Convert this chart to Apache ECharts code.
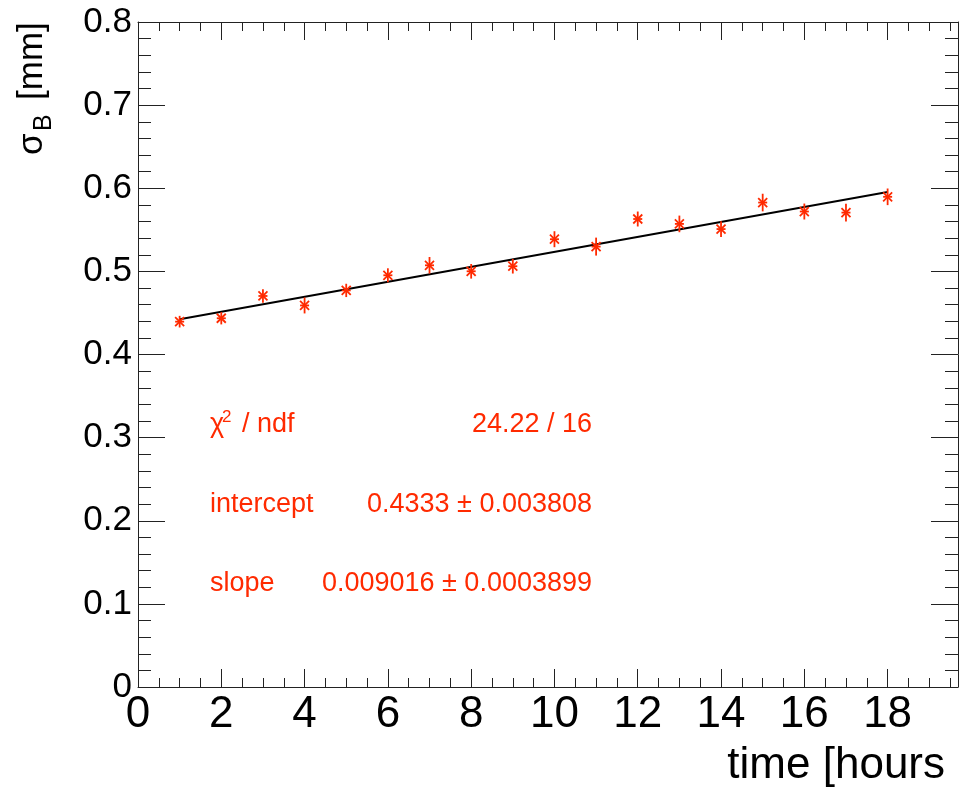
<!DOCTYPE html>
<html>
<head>
<meta charset="utf-8">
<script src="https://cdn.jsdelivr.net/npm/echarts@6/dist/echarts.min.js"></script>
<style>
  html, body { margin: 0; padding: 0; background: #fff; }
  #chart { width: 960px; height: 788px; }
</style>
</head>
<body>
<div id="chart"></div>
<script>
// Beam width measurements per hour, with uncertainties
const hours = [1, 2, 3, 4, 5, 6, 7, 8, 9, 10, 11, 12, 13, 14, 15, 16, 17, 18];
const sigmaB = [0.4395, 0.4436, 0.4704, 0.4590, 0.4771, 0.4953, 0.5073, 0.5001, 0.5062,
                0.5387, 0.5298, 0.5630, 0.5571, 0.5509, 0.5828, 0.5720, 0.5707, 0.5897];
const sigmaErr = [0.0070, 0.0074, 0.0080, 0.0096, 0.0080, 0.0084, 0.0100, 0.0088, 0.0088,
                  0.0096, 0.0108, 0.0090, 0.0100, 0.0094, 0.0106, 0.0096, 0.0106, 0.0100];

// Linear fit results
const fitIntercept = 0.4333;
const fitSlope = 0.009016;
const fitRange = [1, 18];
const statLabels = ['intercept', 'slope'];
const statValues = ['0.4333 \u00b1 0.003808', '0.009016 \u00b1 0.0003899'];
const chi2Text = '24.22 / 16';

const xMax = 19.69;
const red = '#ff2a00';
const frame = '#222';
const font = '"Liberation Sans", Arial, Helvetica, sans-serif';

const points = hours.map((h, i) => [h, sigmaB[i], sigmaErr[i]]);
const fitLine = fitRange.map(t => [t, fitIntercept + fitSlope * t]);

function renderPoint(params, api) {
  const x = api.value(0), y = api.value(1), e = api.value(2);
  const c = api.coord([x, y]);
  const top = api.coord([x, y + e]);
  const bot = api.coord([x, y - e]);
  const r = 4.5;
  const st = { stroke: red, lineWidth: 1.8 };
  const seg = (x1, y1, x2, y2) => ({ type: 'line', shape: { x1, y1, x2, y2 }, style: st });
  return {
    type: 'group',
    children: [
      seg(top[0], top[1], bot[0], bot[1]),
      seg(c[0] - r, c[1] - r, c[0] + r, c[1] + r),
      seg(c[0] - r, c[1] + r, c[0] + r, c[1] - r),
      seg(c[0] - r, c[1], c[0] + r, c[1])
    ]
  };
}

const xBase = { type: 'value', min: 0, max: xMax, splitLine: { show: false } };
const yBase = { type: 'value', min: 0, max: 0.8, interval: 0.1, splitLine: { show: false } };

const chart = echarts.init(document.getElementById('chart'), null, { renderer: 'canvas' });
chart.setOption({
  backgroundColor: '#fff',
  animation: false,
  grid: { left: 138, top: 22, width: 820, height: 665, containLabel: false },
  xAxis: [
    Object.assign({}, xBase, {
      position: 'bottom', interval: 2,
      axisLine: { show: true, onZero: false, lineStyle: { color: frame, width: 1 } },
      axisTick: { show: true, inside: true, length: 18, lineStyle: { color: frame } },
      axisLabel: { show: true, fontSize: 44, color: '#000', fontFamily: font, margin: 6,
                   showMaxLabel: false }
    }),
    Object.assign({}, xBase, {
      position: 'bottom', interval: 0.5,
      axisLine: { show: false, onZero: false },
      axisTick: { show: true, inside: true, length: 9, lineStyle: { color: frame } },
      axisLabel: { show: false }
    }),
    Object.assign({}, xBase, {
      position: 'top', interval: 2,
      axisLine: { show: true, onZero: false, lineStyle: { color: frame, width: 1 } },
      axisTick: { show: true, inside: true, length: 18, lineStyle: { color: frame } },
      axisLabel: { show: false }
    }),
    Object.assign({}, xBase, {
      position: 'top', interval: 0.5,
      axisLine: { show: false, onZero: false },
      axisTick: { show: true, inside: true, length: 9, lineStyle: { color: frame } },
      axisLabel: { show: false }
    })
  ],
  yAxis: [
    Object.assign({}, yBase, {
      position: 'left',
      axisLine: { show: true, onZero: false, lineStyle: { color: frame, width: 1 } },
      axisTick: { show: true, inside: true, length: 27, lineStyle: { color: frame } },
      minorTick: { show: true, splitNumber: 5, length: 13, lineStyle: { color: frame } },
      axisLabel: { show: true, fontSize: 35, color: '#000', fontFamily: font, margin: 6 }
    }),
    Object.assign({}, yBase, {
      position: 'right',
      axisLine: { show: true, onZero: false, lineStyle: { color: frame, width: 1 } },
      axisTick: { show: true, inside: true, length: 27, lineStyle: { color: frame } },
      minorTick: { show: true, splitNumber: 5, length: 13, lineStyle: { color: frame } },
      axisLabel: { show: false }
    })
  ],
  series: [
    {
      type: 'line', data: fitLine, xAxisIndex: 0, yAxisIndex: 0,
      showSymbol: false, symbol: 'none',
      lineStyle: { color: '#000', width: 2 }, z: 3
    },
    {
      type: 'custom', data: points, xAxisIndex: 0, yAxisIndex: 0,
      renderItem: renderPoint, z: 4
    }
  ],
  graphic: [
    // axis titles
    {
      type: 'text', x: 945, y: 766,
      style: { text: 'time [hours', fill: '#000', font: '44px ' + font,
               textAlign: 'right', textVerticalAlign: 'middle' }
    },
    {
      type: 'group', x: 44, y: 155, rotation: Math.PI / 2,
      children: [
        { type: 'text', x: 0, y: -12,
          style: { text: '\u03c3', fill: '#000', font: '35px ' + font,
                   textAlign: 'left', textVerticalAlign: 'middle' } },
        { type: 'text', x: 24, y: 0,
          style: { text: 'B', fill: '#000', font: '25px ' + font,
                   textAlign: 'left', textVerticalAlign: 'middle' } },
        { type: 'text', x: 55, y: -12,
          style: { text: '[mm]', fill: '#000', font: '35px ' + font,
                   textAlign: 'left', textVerticalAlign: 'middle' } }
      ]
    },
    // fit statistics
    { type: 'text', x: 210, y: 425,
      style: { text: '\u03c7', fill: red, font: '27px ' + font, textAlign: 'left', textVerticalAlign: 'middle' } },
    { type: 'text', x: 222, y: 417,
      style: { text: '2', fill: red, font: '17px ' + font, textAlign: 'left', textVerticalAlign: 'middle' } },
    { type: 'text', x: 242, y: 425,
      style: { text: '/ ndf', fill: red, font: '27px ' + font, textAlign: 'left', textVerticalAlign: 'middle' } },
    { type: 'text', x: 592, y: 425,
      style: { text: chi2Text, fill: red, font: '27px ' + font, textAlign: 'right', textVerticalAlign: 'middle' } },
    { type: 'text', x: 210, y: 505,
      style: { text: statLabels[0], fill: red, font: '27px ' + font, textAlign: 'left', textVerticalAlign: 'middle' } },
    { type: 'text', x: 592, y: 505,
      style: { text: statValues[0], fill: red, font: '27px ' + font, textAlign: 'right', textVerticalAlign: 'middle' } },
    { type: 'text', x: 210, y: 584,
      style: { text: statLabels[1], fill: red, font: '27px ' + font, textAlign: 'left', textVerticalAlign: 'middle' } },
    { type: 'text', x: 592, y: 584,
      style: { text: statValues[1], fill: red, font: '27px ' + font, textAlign: 'right', textVerticalAlign: 'middle' } }
  ]
});
</script>
</body>
</html>
